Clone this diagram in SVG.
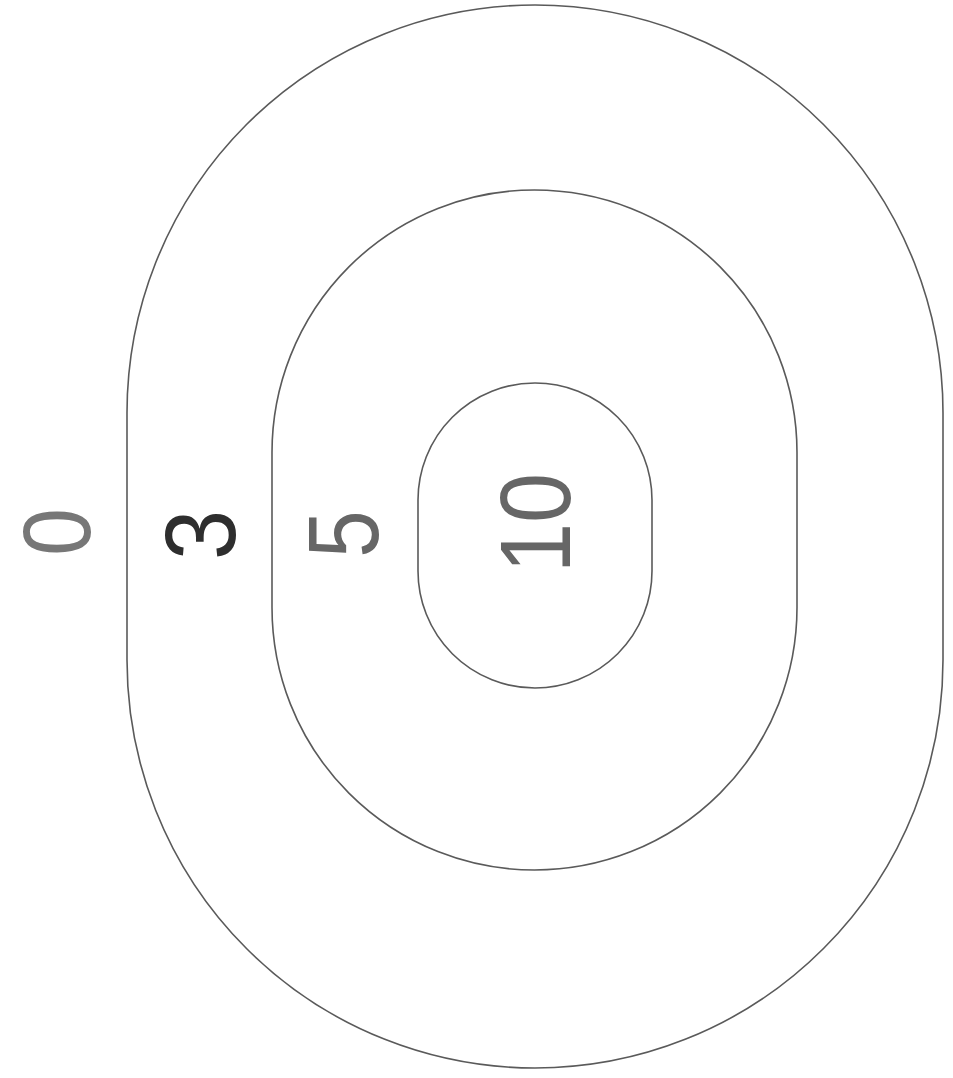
<svg xmlns="http://www.w3.org/2000/svg" width="953" height="1078" viewBox="0 0 953 1078">
<style>
.ring{fill:none;stroke:#5a5a5a;stroke-width:1.6}
.lbl{font-family:"Liberation Sans",Arial,sans-serif;font-size:100px;text-anchor:middle;font-weight:300}
</style>
<rect width="953" height="1078" fill="#ffffff"/>
<g id="ring-0">
<path class="ring" d="M127,413 A408,408 0 0 1 943,413 L943,660 A408,408 0 0 1 127,660 Z"/>
</g>
<g id="ring-5">
<path class="ring" d="M272,452.5 A262.5,262.5 0 0 1 797,452.5 L797,607.5 A262.5,262.5 0 0 1 272,607.5 Z"/>
</g>
<g id="ring-10">
<path class="ring" d="M418,500 A117,117 0 0 1 652,500 L652,571 A117,117 0 0 1 418,571 Z"/>
</g>
<g id="label-0"><text class="lbl" fill="#777" style="font-size:97px" transform="translate(90,532) rotate(-90) scale(0.88,1)">0</text></g>
<g id="label-3"><text class="lbl" fill="#2e2e2e" transform="translate(235,535) rotate(-90) scale(0.9,1)">3</text></g>
<g id="label-5"><text class="lbl" fill="#666" transform="translate(378,534) rotate(-90) scale(0.85,1)">5</text></g>
<g id="label-10"><text class="lbl" fill="#666" transform="translate(570,523) rotate(-90) scale(0.9,1)">10</text></g>
</svg>
